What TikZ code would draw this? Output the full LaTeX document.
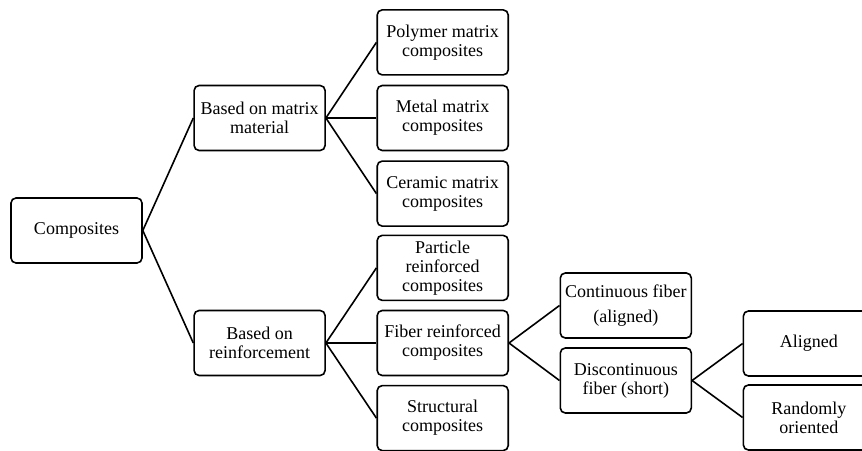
\documentclass[tikz,border=0pt]{standalone}
\usepackage{fontspec}
\setmainfont{Liberation Serif}
\usetikzlibrary{positioning}
\tikzset{
    box/.style={
        draw,
        line width=1.6pt,
        rounded corners=5pt,
        minimum width=131pt,
        minimum height=65pt,
        align=center,
        inner sep=2pt
    },
    line/.style={line width=1.6pt},
    every node/.style={font=\fontsize{18}{19}\selectfont}
}
\begin{document}
\begin{tikzpicture}
\useasboundingbox (-76.5pt,-219.5pt) rectangle (785.5pt,230.5pt);
\node[box] (comp) {Composites};

\node[box, right=50.5pt of comp, yshift=112.5pt] (matrix) {Based on matrix\\material};
\node[box, right=50.5pt of comp, yshift=-112.5pt] (reinf) {Based on\\reinforcement};

\node[box, right=50.5pt of matrix] (metal) {Metal matrix\\composites};
\node[box, above=9pt of metal] (polymer) {Polymer matrix\\composites};
\node[box, below=9pt of metal] (ceramic) {Ceramic matrix\\composites};

\node[box, right=50.5pt of reinf] (fiber) {Fiber reinforced\\composites};
\node[box, above=8.5pt of fiber] (particle) {Particle\\reinforced\\composites};
\node[box, below=8.5pt of fiber] (struct) {Structural\\composites};

\node[box, right=50.5pt of fiber, yshift=37.5pt] (cont) {Continuous fiber\\[6pt](aligned)};
\node[box, right=50.5pt of fiber, yshift=-37.5pt] (disc) {Discontinuous\\fiber (short)};

\node[box, right=50.5pt of disc, yshift=37pt] (aligned) {Aligned};
\node[box, right=50.5pt of disc, yshift=-37pt] (random) {Randomly\\oriented};

\draw[line] (comp.east) -- (matrix.west);
\draw[line] (comp.east) -- (reinf.west);
\draw[line] (matrix.east) -- (polymer.west);
\draw[line] (matrix.east) -- (metal.west);
\draw[line] (matrix.east) -- (ceramic.west);
\draw[line] (reinf.east) -- (particle.west);
\draw[line] (reinf.east) -- (fiber.west);
\draw[line] (reinf.east) -- (struct.west);
\draw[line] (fiber.east) -- (cont.west);
\draw[line] (fiber.east) -- (disc.west);
\draw[line] (disc.east) -- (aligned.west);
\draw[line] (disc.east) -- (random.west);
\end{tikzpicture}
\end{document}
